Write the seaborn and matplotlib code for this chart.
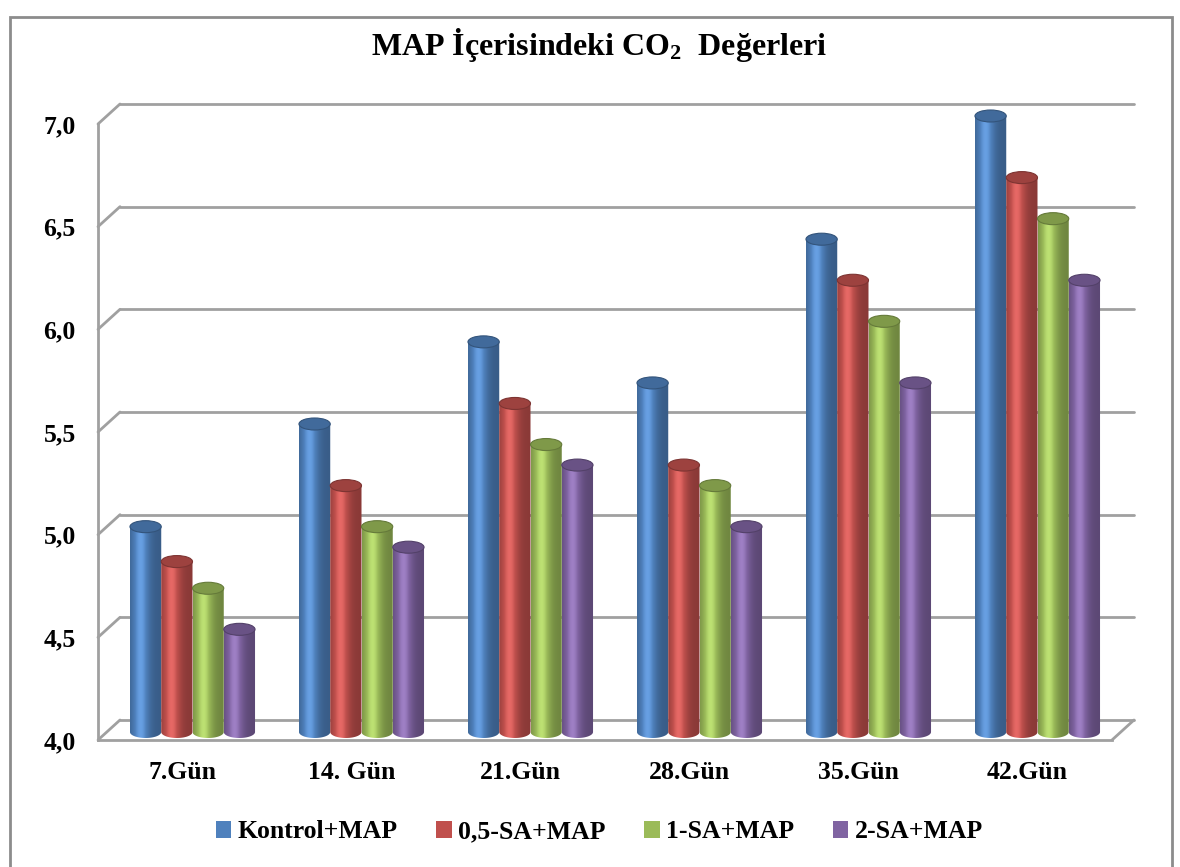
import numpy as np
import pandas as pd
import matplotlib
matplotlib.use("Agg")
import matplotlib.pyplot as plt
import matplotlib.colors as mcolors
from matplotlib.patches import Ellipse, PathPatch, Patch, Rectangle
from matplotlib.path import Path
import seaborn as sns

days = ["7.Gün", "14. Gün", "21.Gün", "28.Gün", "35.Gün", "42.Gün"]
groups = ["Kontrol+MAP", "0,5-SA+MAP", "1-SA+MAP", "2-SA+MAP"]
kontrol = [5.0, 5.5, 5.9, 5.7, 6.4, 7.0]
sa_05 = [4.83, 5.2, 5.6, 5.3, 6.2, 6.7]
sa_1 = [4.7, 5.0, 5.4, 5.2, 6.0, 6.5]
sa_2 = [4.5, 4.9, 5.3, 5.0, 5.7, 6.2]
colors = ["#4F81BD", "#C0504D", "#9BBB59", "#8064A2"]
yticks = [4.0, 4.5, 5.0, 5.5, 6.0, 6.5, 7.0]

sns.set_style("white")
plt.rcParams["font.family"] = ["Liberation Serif", "DejaVu Serif"]
plt.rcParams["font.weight"] = "bold"
plt.rcParams["text.color"] = "black"
plt.rcParams["mathtext.fontset"] = "custom"
plt.rcParams["mathtext.rm"] = "Liberation Serif:bold"
plt.rcParams["mathtext.it"] = "Liberation Serif:bold"
plt.rcParams["mathtext.bf"] = "Liberation Serif:bold"

rows = []
for g, vals in zip(groups, [kontrol, sa_05, sa_1, sa_2]):
    for d, v in zip(days, vals):
        rows.append({"day": d, "group": g, "value": v})
df = pd.DataFrame(rows)

W, H = 1180, 867
y_lo, y_hi, y_top = 4.0, 7.0, 7.12
px_per_unit = (740 - 124) / (y_hi - y_lo)
ax_top_px = 740 - px_per_unit * (y_top - y_lo)

fig = plt.figure(figsize=(W / 100, H / 100), dpi=100)
ax = fig.add_axes([98 / W, 1 - 740 / H, (1112 - 98) / W, (740 - ax_top_px) / H])

sns.barplot(data=df, x="day", y="value", hue="group", palette=colors,
            saturation=1, width=0.74, gap=0, legend=False, ax=ax)

# pixel -> data unit conversions for the fake 3d look
px_x = 1 / ((1112 - 98) / len(days))
px_y = 1 / px_per_unit
wall_dx, wall_dy = 22 * px_x, 20 * px_y
bar_dx, bar_dy = 10 * px_x, 8 * px_y
cap_h = 12 * px_y

gray = "#a0a0a0"

# back wall grid + diagonals
for v in yticks:
    ax.plot([-0.5 + wall_dx, len(days) - 0.5 + wall_dx], [v + wall_dy, v + wall_dy],
            color=gray, lw=2, clip_on=False, zorder=1)
    ax.plot([-0.5, -0.5 + wall_dx], [v, v + wall_dy], color=gray, lw=2, clip_on=False, zorder=1)
ax.plot([len(days) - 0.5, len(days) - 0.5 + wall_dx], [y_lo, y_lo + wall_dy],
        color=gray, lw=2, clip_on=False, zorder=1)


def shade(c, t):
    rgb = np.array(mcolors.to_rgb(c))
    f = 0.72 + 0.4 * np.exp(-((t - 0.33) / 0.28) ** 2)
    out = rgb[None, :] * f[:, None]
    out = out + np.clip(f[:, None] - 1.0, 0, None) * 0.5
    return np.clip(out, 0, 1)


t = np.linspace(0, 1, 80)
bars = list(ax.patches)
for p in bars:
    x0 = p.get_x() + bar_dx
    w = p.get_width()
    x1 = x0 + w
    cx = x0 + w / 2
    top = p.get_height() + bar_dy
    base = y_lo + bar_dy
    c = p.get_facecolor()
    p.set_visible(False)

    th = np.linspace(np.pi, 2 * np.pi, 40)
    verts = [(x0, top), (x0, base)]
    verts += list(zip(cx + w / 2 * np.cos(th), base + cap_h / 2 * np.sin(th)))
    verts += [(x1, top), (x0, top)]
    codes = [Path.MOVETO] + [Path.LINETO] * (len(verts) - 2) + [Path.CLOSEPOLY]
    body = PathPatch(Path(verts, codes), fc="none", ec="none", zorder=3)
    ax.add_patch(body)

    grad = shade(c, t)[None, :, :]
    im = ax.imshow(grad, extent=[x0, x1, base - cap_h, top], aspect="auto",
                   interpolation="bilinear", zorder=3)
    im.set_clip_path(body)

    rgb = np.array(mcolors.to_rgb(c))
    ax.add_patch(Ellipse((cx, top), w, cap_h, fc=rgb * 0.82, ec=rgb * 0.65, lw=0.8, zorder=4))

ax.set_xlim(-0.5, len(days) - 0.5)
ax.set_ylim(y_lo, y_top)

ax.set_yticks(yticks)
ax.set_yticklabels([f"{v:.1f}".replace(".", ",") for v in yticks], fontsize=18.5, fontweight="bold")
ax.set_xticks(range(len(days)))
ax.set_xticklabels(days, fontsize=18.5, fontweight="bold")
ax.set_xticks(np.arange(-0.5, len(days), 1), minor=True)
ax.tick_params(axis="x", which="major", length=0, pad=15, labelcolor="black")
ax.tick_params(axis="x", which="minor", length=7, width=1.5, color=gray, direction="out")
ax.tick_params(axis="y", length=6, width=1.5, color=gray, direction="out", pad=10, labelcolor="black")
ax.set_xlabel("")
ax.set_ylabel("")
for s in ["top", "right"]:
    ax.spines[s].set_visible(False)
for s in ["left", "bottom"]:
    ax.spines[s].set_color(gray)
    ax.spines[s].set_linewidth(2)
ax.spines["left"].set_bounds(y_lo, y_hi)
ax.grid(False)

fig.text(0.508, 1 - 45 / H, r"MAP İçerisindeki CO$_2$  Değerleri", ha="center", va="center",
         fontsize=23, fontweight="bold", color="black")

handles = [Patch(facecolor=c, edgecolor="none") for c in colors]
fig.legend(handles, groups, loc="center", bbox_to_anchor=(0.508, 1 - 832 / H), ncol=4,
           frameon=False, handlelength=0.6, handleheight=0.6, labelcolor="black",
           handletextpad=0.25, columnspacing=1.5, prop={"weight": "bold", "size": 18.5})

fig.add_artist(Rectangle((10 / W, -0.01), (1172 - 10) / W, 1.01 - 17 / H,
                         transform=fig.transFigure, fill=False, ec="#8c8c8c", lw=2))

fig.savefig("out.png", dpi=100)
